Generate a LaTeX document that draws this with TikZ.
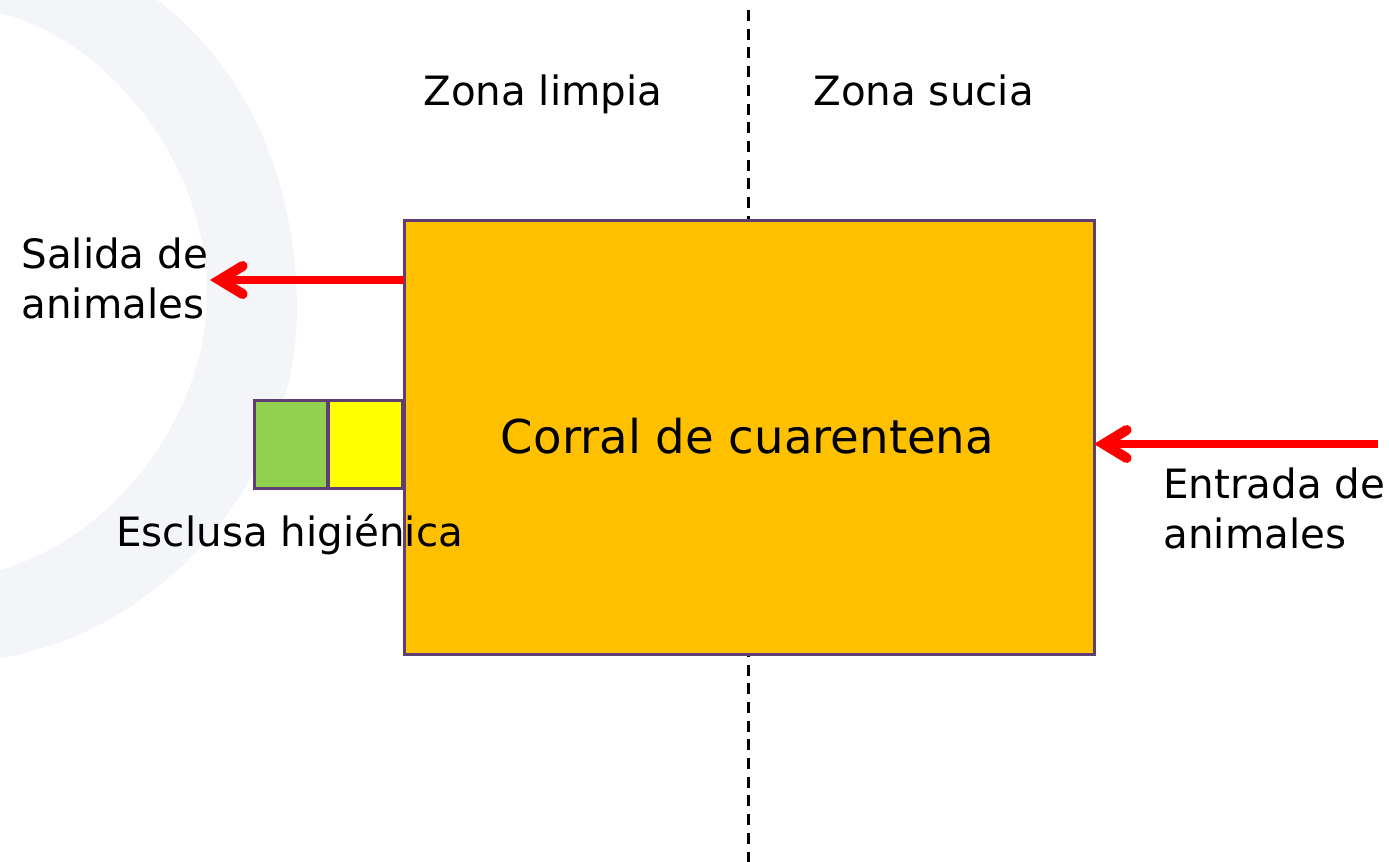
\documentclass[tikz,border=0pt]{standalone}
\usepackage{fontspec}
\usetikzlibrary{arrows.meta}
\setmainfont{DejaVu Sans}
\definecolor{ring}{HTML}{F3F5F9}
\definecolor{edge}{HTML}{5F3F73}
\definecolor{corral}{HTML}{FFC000}
\definecolor{lgreen}{HTML}{92D050}
\definecolor{lyellow}{HTML}{FFFF00}
\definecolor{rojo}{HTML}{FF0000}
\tikzset{
 box/.style={draw=edge,line width=1.5pt,inner sep=0pt,outer sep=0pt,anchor=north west},
 lab/.style={inner sep=0pt,font=\fontsize{20.2pt}{24.7pt}\selectfont,anchor=base west,text=black},
 redarrow/.style={draw=rojo,line width=3.6pt,-{Straight Barb[length=11.5pt,width=14pt,line width=5pt,line cap=round,line join=miter]}}
}
\begin{document}
\begin{tikzpicture}[x=0.5pt,y=-0.5pt]
\useasboundingbox (0,0) rectangle (1389,862);
\fill[ring,even odd rule] (0,0) -- (157,0) .. controls (250,70) and (297,185) .. (297,310)
  .. controls (297,470) and (170,630) .. (0,658) -- cycle
  (0,13) .. controls (95,35) and (207,150) .. (207,295)
  .. controls (207,410) and (120,535) .. (0,570) -- cycle;
\coordinate (dtop) at (748,10);
\coordinate (dbot) at (748,862);
\draw[black,line width=1.5pt,dash pattern=on 5.5pt off 3.85pt] (dtop) -- (dbot);
\node[box,fill=corral,minimum width=345pt,minimum height=217pt] (c) at (404,220) {};
\node[font=\fontsize{23.3pt}{28pt}\selectfont,inner sep=0pt,anchor=base] (ct) at (747.5,453) {Corral de cuarentena};
\node[box,fill=lgreen,minimum width=36.5pt,minimum height=44pt] (g) at (254,400) {};
\node[box,fill=lyellow,minimum width=37pt,minimum height=44pt] (y) at (328,400) {};
\node[lab] (zl) at (423,105) {Zona limpia};
\node[lab] (zs) at (813,105) {Zona sucia};
\node[lab] (sa) at (21,268.5) {Salida de};
\node[lab] (sb) at (21,318.5) {animales};
\node[lab] (es) at (116,546.5) {Esclusa higiénica};
\node[lab] (ea) at (1163,498.5) {Entrada de};
\node[lab] (eb) at (1163,548.5) {animales};
\coordinate (sOut) at (210,280);
\coordinate (eIn) at (1378,444);
\draw[redarrow] (c.west|-sOut) -- (sOut);
\draw[redarrow] (eIn) -- (c.east|-eIn);
\end{tikzpicture}
\end{document}
